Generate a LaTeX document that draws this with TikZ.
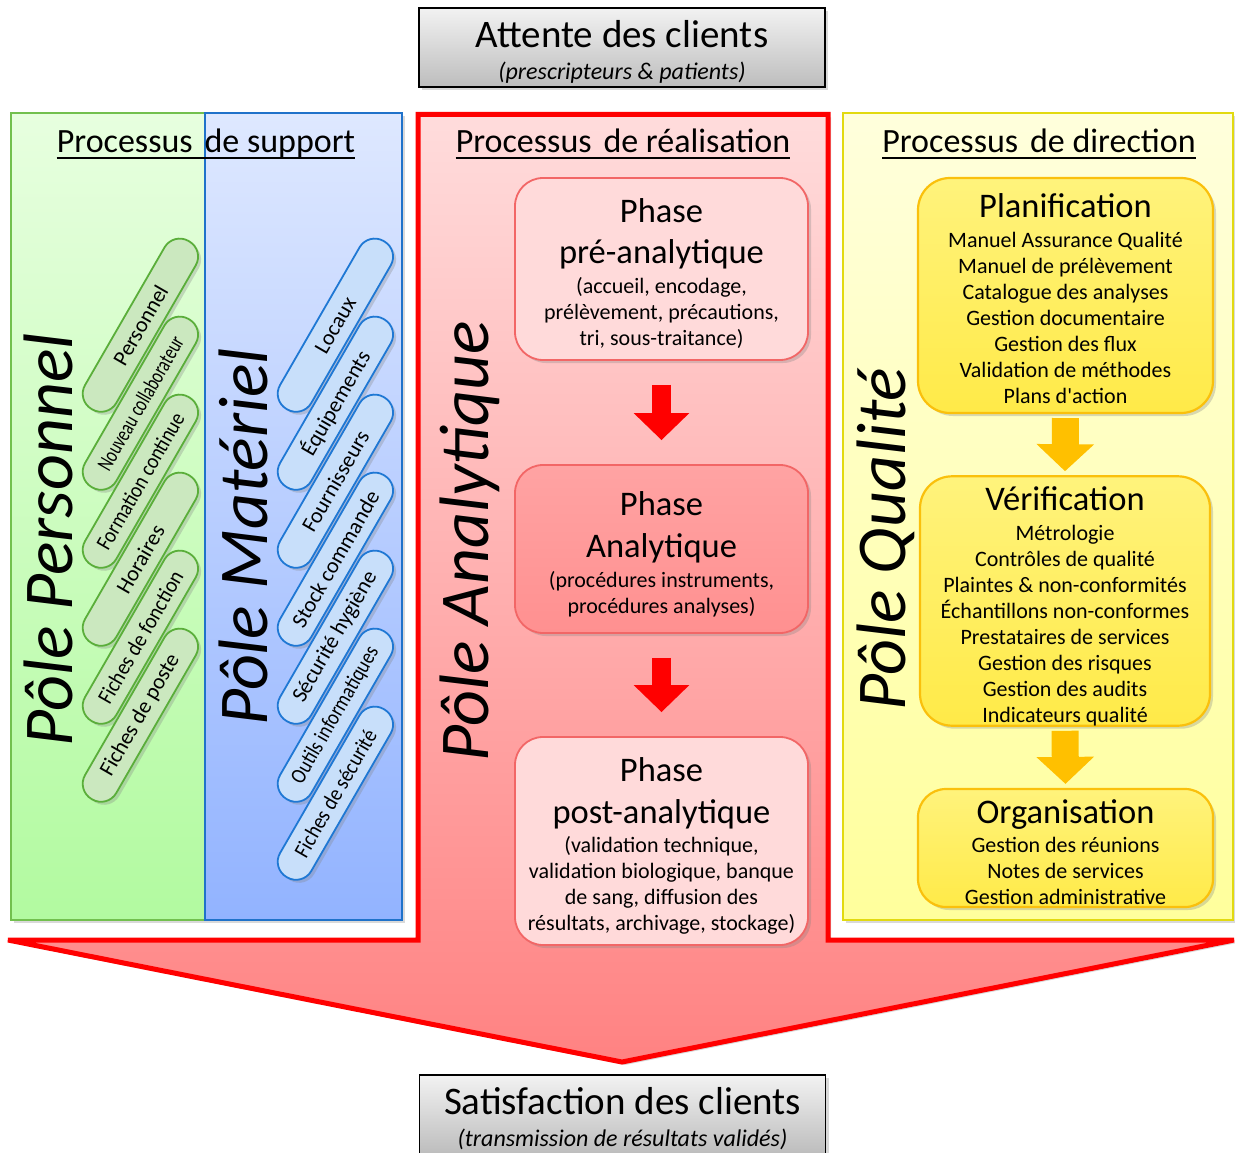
\documentclass[tikz,border=0pt]{standalone}
\usepackage{fontspec}
\setmainfont{Carlito}
\usetikzlibrary{arrows.meta,shadows}

\definecolor{clienttop}{HTML}{F2F2F2}
\definecolor{clientbot}{HTML}{BDBDBD}
\definecolor{persline}{HTML}{72C04E}
\definecolor{perstop}{HTML}{E7FFDF}
\definecolor{persbot}{HTML}{B2FAA0}
\definecolor{matline}{HTML}{1F72CA}
\definecolor{mattop}{HTML}{DEE8FF}
\definecolor{matbot}{HTML}{92B3FF}
\definecolor{pillPline}{HTML}{5AAE3A}
\definecolor{pillPfill}{HTML}{CBE8BF}
\definecolor{pillMline}{HTML}{1F78D4}
\definecolor{pillMfill}{HTML}{C8DFFA}
\definecolor{realred}{HTML}{FF0000}
\definecolor{realtop}{HTML}{FFDCDC}
\definecolor{realbot}{HTML}{FF8282}
\definecolor{phaseline}{HTML}{F26666}
\definecolor{phaselight}{HTML}{FFDADA}
\definecolor{phasedarktop}{HTML}{FFA3A3}
\definecolor{phasedarkbot}{HTML}{FF9090}
\definecolor{arrowred}{HTML}{FF0000}
\definecolor{qualline}{HTML}{E2DA10}
\definecolor{qualtop}{HTML}{FFFFDC}
\definecolor{qualbot}{HTML}{FFFF9C}
\definecolor{qboxline}{HTML}{FAC00C}
\definecolor{qboxtop}{HTML}{FFF37C}
\definecolor{qboxbot}{HTML}{FFEA48}
\definecolor{arrowyel}{HTML}{FFC000}

% optional arg: extra room above the first line (pushes the text down by half of it)
\newcommand{\boxtitle}[2][0pt]{\raisebox{0pt}[\dimexpr\height+#1\relax]{\fontsize{34.5}{36}\selectfont #2}}
\newcommand{\clienttitle}[2][0pt]{\raisebox{0pt}[\dimexpr\height+#1\relax]{\fontsize{39}{40}\selectfont #2}}

\begin{document}
\begin{tikzpicture}[x=1pt,y=-1pt,
    shadowed/.style={drop shadow={opacity=0.3,shadow xshift=3pt,shadow yshift=-3pt}},
    clientbox/.style={draw=black, line width=1.5pt, top color=clienttop, bottom color=clientbot,
        minimum width=406pt, minimum height=79pt, inner sep=0pt, align=center,
        font=\fontsize{24}{24}\selectfont, shadowed},
    ptitle/.style={anchor=base, inner sep=0pt, font=\fontsize{34}{34}\selectfont},
    pole/.style={anchor=base, rotate=90, inner sep=0pt, font=\fontsize{70}{70}\selectfont\itshape},
    pillP/.style={draw=pillPline, fill=pillPfill, line width=1.8pt, rounded corners=17.5pt,
        minimum width=194pt, minimum height=36pt, inner sep=0pt, rotate=60,
        font=\fontsize{22}{22}\selectfont, shadowed},
    pillM/.style={pillP, draw=pillMline, fill=pillMfill},
    phase/.style={draw=phaseline, fill=phaselight, line width=1.8pt, rounded corners=28pt,
        minimum width=293pt, inner sep=0pt, align=center,
        font=\fontsize{22}{26}\selectfont, shadowed},
    qbox/.style={draw=qboxline, line width=2.2pt, rounded corners=32pt, top color=qboxtop,
        bottom color=qboxbot, inner sep=0pt, align=center,
        font=\fontsize{22}{26}\selectfont, shadowed},
    redarrow/.style={draw=arrowred, line width=19pt, -{Triangle[width=54pt,length=27pt]},
        shorten <=24pt, shorten >=24pt},
    yelarrow/.style={draw=arrowyel, line width=27pt, -{Triangle[width=56pt,length=27pt]},
        shorten <=4pt, shorten >=4pt}]
\useasboundingbox (0,0) rectangle (1235,1153);

% Realisation column ending in the big arrow
\draw[draw=realred, line width=5pt, top color=realtop, bottom color=realbot, shadowed]
    (418,114.5) -- (828,114.5) -- (828,940) -- (1234,940) -- (622,1062)
    -- (8,940) -- (418,940) -- cycle;

% Support, direction panels
\draw[draw=persline, line width=2pt, top color=perstop, bottom color=persbot, shadowed]
    (11,113) rectangle (205,920);
\draw[draw=matline, line width=2pt, top color=mattop, bottom color=matbot, shadowed]
    (205,113) rectangle (402,920);
\draw[draw=qualline, line width=2pt, top color=qualtop, bottom color=qualbot, shadowed]
    (843,113) rectangle (1233,920);

% Clients in and out
\node[clientbox] (attente) at (622,47.5)
    {\clienttitle[8pt]{Attente des clients}\\[8pt]\itshape (prescripteurs \& patients)};
\node[clientbox] (satisf) at (622.5,1114.5)
    {\clienttitle[8pt]{Satisfaction des clients}\\[8pt]\itshape (transmission de résultats validés)};

% Process titles
\node[ptitle] (supT) at (206,153) {Processus\hspace{.35em}de support};
\node[ptitle] (realT) at (623,153) {Processus\hspace{.35em}de réalisation};
\node[ptitle] (dirT) at (1039,153) {Processus\hspace{.35em}de direction};
\draw[line width=1.6pt] ([yshift=-5pt]supT.base west) -- ([yshift=-5pt]supT.base east);
\draw[line width=1.6pt] ([yshift=-5pt]realT.base west) -- ([yshift=-5pt]realT.base east);
\draw[line width=1.6pt] ([yshift=-5pt]dirT.base west) -- ([yshift=-5pt]dirT.base east);

% Poles
\node[pole] (persP) at (72,540) {Pôle Personnel};
\node[pole] (matP) at (267,537) {Pôle Matériel};
\node[pole] (anaP) at (488,541) {Pôle Analytique};
\node[pole] (qualP) at (905,539) {Pôle Qualité};

% Personnel items
\node[pillP] (pers1) at (140.4,325.2) {Personnel};
\node[pillP] (pers2) at (140.4,403.2) {\scalebox{0.74}[1]{Nouveau collaborateur}};
\node[pillP] (pers3) at (140.4,481.2) {\scalebox{0.88}[1]{Formation continue}};
\node[pillP] (pers4) at (140.4,559.2) {Horaires};
\node[pillP] (pers5) at (140.4,637.2) {\scalebox{0.92}[1]{Fiches de fonction}};
\node[pillP] (pers6) at (140.4,715.2) {Fiches de poste};

% Materiel items
\node[pillM] (mat1) at (335.4,325.2) {Locaux};
\node[pillM] (mat2) at (335.4,403.2) {Équipements};
\node[pillM] (mat3) at (335.4,481.2) {Fournisseurs};
\node[pillM] (mat4) at (335.4,559.2) {Stock commande};
\node[pillM] (mat5) at (335.4,637.2) {Sécurité hygiène};
\node[pillM] (mat6) at (335.4,715.2) {\scalebox{0.85}[1]{Outils informatiques}};
\node[pillM] (mat7) at (335.4,793.2) {\scalebox{0.9}[1]{Fiches de sécurité}};

% Analytical phases
\node[phase, minimum height=182pt] (pre) at (661.5,269)
    {\boxtitle[10pt]{Phase}\\[15pt]\boxtitle{pré-analytique}\\[4pt]
     (accueil, encodage,\\prélèvement, précautions,\\tri, sous-traitance)};
\node[phase, top color=phasedarktop, bottom color=phasedarkbot, minimum height=168pt] (ana) at (661.5,549)
    {\boxtitle[10pt]{Phase}\\[16pt]\boxtitle{Analytique}\\[4pt]
     (procédures instruments,\\procédures analyses)};
\node[phase, minimum height=208pt] (post) at (661.5,841)
    {\boxtitle[10pt]{Phase}\\[16pt]\boxtitle{post-analytique}\\[3pt]
     (validation technique,\\validation biologique, banque\\de sang, diffusion des\\résultats, archivage, stockage)};
\draw[redarrow] (pre.south) -- (ana.north);
\draw[redarrow] (ana.south) -- (post.north);

% Quality boxes
\node[qbox, minimum width=295pt, minimum height=235pt] (plan) at (1065.5,295.5)
    {\boxtitle[6pt]{Planification}\\[4pt]
     Manuel Assurance Qualité\\Manuel de prélèvement\\Catalogue des analyses\\
     Gestion documentaire\\Gestion des flux\\Validation de méthodes\\Plans d\textquotesingle action};
\node[qbox, minimum width=290pt, minimum height=248pt] (verif) at (1065,601)
    {\boxtitle[10pt]{Vérification}\\[4pt]
     Métrologie\\Contrôles de qualité\\Plaintes \& non-conformités\\Échantillons non-conformes\\
     Prestataires de services\\Gestion des risques\\Gestion des audits\\Indicateurs qualité};
\node[qbox, rounded corners=28pt, minimum width=295pt, minimum height=118pt] (org) at (1065.5,848)
    {\boxtitle[8pt]{Organisation}\\[3pt]
     Gestion des réunions\\Notes de services\\Gestion administrative};
\draw[yelarrow] (plan.south) -- (verif.north);
\draw[yelarrow] (verif.south) -- (org.north);
\end{tikzpicture}
\end{document}
